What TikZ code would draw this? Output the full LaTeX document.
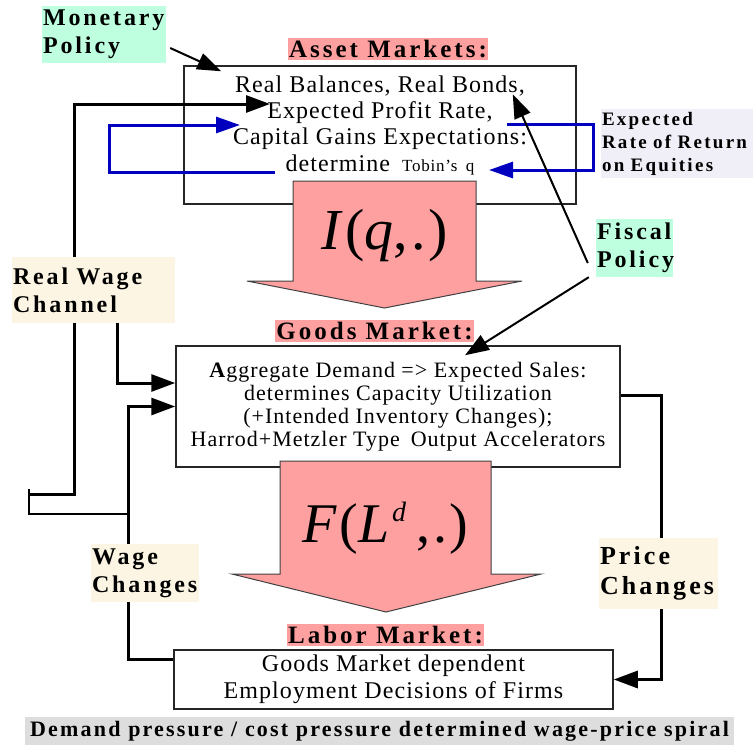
\documentclass[tikz,border=0pt]{standalone}
\usepackage{fontspec}
\setmainfont{Liberation Serif}[LetterSpace=4.5]
\newfontfamily\tagfont[LetterSpace=12]{Liberation Serif}
\newfontfamily\capfont[LetterSpace=10]{Liberation Serif}
\usetikzlibrary{arrows.meta,positioning}

\definecolor{mktpink}{RGB}{255,160,160}
\definecolor{polgreen}{RGB}{190,255,224}
\definecolor{chancream}{RGB}{253,245,228}
\definecolor{eqlav}{RGB}{240,239,247}
\definecolor{capgray}{RGB}{221,221,221}
\definecolor{loopblue}{RGB}{0,0,190}

\begin{document}
\begin{tikzpicture}[x=1pt,y=-1pt,
    market/.style={draw=black!85,line width=1.5pt,fill=white},
    boxtext/.style={align=center,inner sep=0pt,font=\fontsize{24}{26.3}\selectfont},
    title/.style={fill=mktpink,inner xsep=1pt,inner ysep=2pt,font=\tagfont\bfseries\fontsize{25}{30}\selectfont},
    tag/.style={align=left,inner sep=1pt,font=\tagfont\bfseries\fontsize{24}{28}\selectfont},
    bigarrow/.style={fill=mktpink,draw=black!75,line width=1pt},
    link/.style={line width=3pt},
    tip/.style={-{Triangle[length=24pt,width=17pt]}},
    loop/.style={draw=loopblue,line width=3pt,-{Triangle[length=24pt,width=16pt]}}
  ]
  \useasboundingbox (0,0) rectangle (753,745);

  % the three markets
  \node[market,minimum width=392pt,minimum height=138pt] (asset) at (380,135) {};
  \node[boxtext,below=10pt of asset.north] (assettxt)
    {Real Balances, Real Bonds,\\Expected Profit Rate,\\Capital Gains Expectations:\\
     determine\enspace{\fontsize{17}{17}\selectfont Tobin's\enspace q}};
  \node[market,minimum width=444pt,minimum height=121pt,align=center,
        font=\fontsize{22}{23}\selectfont] (goods) at (398,406.5)
    {\textbf{A}ggregate Demand => Expected Sales:\\determines Capacity Utilization\\
     (+Intended Inventory Changes);\\Harrod+Metzler Type\enspace Output Accelerators};
  \node[market,minimum width=439pt,minimum height=59pt,align=center,
        font=\fontsize{24}{27}\selectfont] (labor) at (393.5,679.5)
    {Goods Market dependent\\Employment Decisions of Firms};

  % big arrows between the markets
  \draw[bigarrow] (293,181) -- (476,181) -- (476,281) -- (522,281) -- (384.5,308)
    -- (247,281) -- (293,281) -- cycle;
  \node[font=\fontsize{58}{58}\selectfont] (inv) at (384.5,236) {\textit{I}(\textit{q},.)};
  \draw[bigarrow] (280,461) -- (491,461) -- (491,574) -- (541,574) -- (386,612)
    -- (232,574) -- (280,574) -- cycle;
  \node[font=\fontsize{56}{56}\selectfont] (emp) at (385.5,528)
    {\textit{F}(\textit{L}\raisebox{21pt}{\fontsize{28}{28}\selectfont\textit{d}}\,,.)};

  % Tobin's q loops
  \coordinate (tobinL) at (275,172);
  \coordinate (loopL) at (109,125);
  \coordinate (gainsin) at (240,125);
  \coordinate (profitR) at (507,124);
  \coordinate (loopR) at (593,170);
  \coordinate (tobinR) at (489,170);
  \draw[loop] (tobinL) -| (loopL) -- (gainsin);
  \draw[loop] (profitR) -| (loopR) -- (tobinR);

  % wage-price feedbacks
  \coordinate (wbus) at (128,514);
  \coordinate (farL) at (29,489);
  \coordinate (farLb) at (29,494);
  \coordinate (rwin) at (270,104);
  \coordinate (pbus) at (661,540);
  \draw[link,line width=2pt] (wbus) -| (farL);
  \draw[link,tip] (farLb) -- ++(45,0) |- (rwin);
  \draw[link,tip] ([yshift=20.5pt]labor.west) -| (wbus) |- (goods.west);
  \draw[link,tip] ([yshift=11.5pt]goods.east) -| (pbus) |- (labor.east);

  % labels
  \node[title,above=5pt of asset,xshift=8pt] (assettitle) {Asset Markets:};
  \node[title,above=3pt of goods,xshift=-23.5pt] (goodstitle) {Goods Market:};
  \node[title,above=3pt of labor,xshift=-8pt] (labortitle) {Labor Market:};
  \node[tag,fill=polgreen,text width=122pt,minimum height=57pt] (monetary) at (104,34.5) {Monetary\\Policy};
  \node[tag,fill=polgreen,text width=75pt,minimum height=58pt] (fiscal) at (634.5,248) {Fiscal\\Policy};
  \node[tag,fill=chancream,text width=161pt,minimum height=66pt] (rwc) at (93.5,290) {Real Wage\\Channel};
  \node[tag,fill=chancream,text width=106pt,minimum height=58pt] (wage) at (145,573) {Wage\\Changes};
  \node[tag,fill=chancream,text width=117pt,minimum height=71pt,
        font=\tagfont\bfseries\fontsize{26}{30}\selectfont] (price) at (658.5,573.5) {Price\\Changes};
  \node[tag,fill=eqlav,text width=150pt,minimum height=69pt,
        font=\tagfont\bfseries\fontsize{19}{23}\selectfont] (equity) at (677,143.5)
    {Expected\\Rate of Return\\on Equities};
  \node[fill=capgray,minimum width=709pt,minimum height=28pt,inner sep=0pt,
        font=\capfont\bfseries\fontsize{22}{22}\selectfont] (caption) at (379.5,731)
    {Demand pressure / cost pressure determined wage-price spiral};

  % policy and channel arrows
  \draw[line width=2pt,-{Triangle[length=24pt,width=17pt]}]
    ([xshift=4pt,yshift=-13.5pt]monetary.east) -- ([xshift=38pt,yshift=-6pt]asset.north west);
  \draw[line width=2pt,-{Triangle[length=24pt,width=17pt]}]
    ([xshift=-8pt,yshift=-15pt]fiscal.west) -- ([xshift=-64pt,yshift=-29pt]asset.north east);
  \draw[line width=2pt,-{Triangle[length=24pt,width=17pt]}]
    ([xshift=-7pt]fiscal.south west) -- ([xshift=67pt,yshift=-10pt]goods.north);
  \draw[link,tip] ([xshift=23.5pt]rwc.south) |- ([yshift=23.5pt]goods.west);
\end{tikzpicture}
\end{document}
